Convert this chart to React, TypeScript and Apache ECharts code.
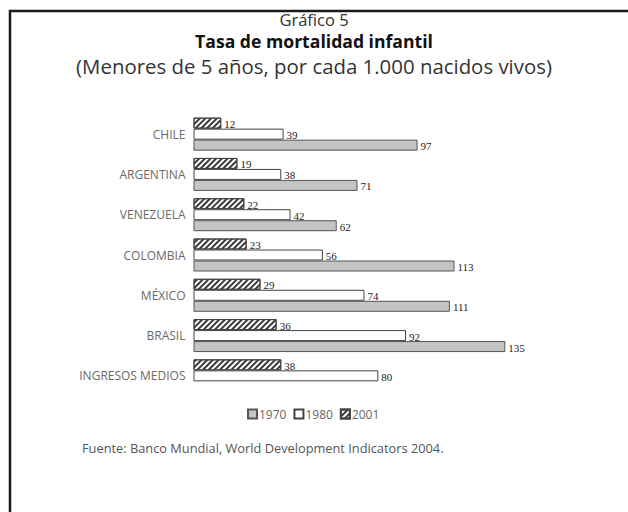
import React, { useEffect, useRef } from "react";
import * as echarts from "echarts";

const categories = ["CHILE", "ARGENTINA", "VENEZUELA", "COLOMBIA", "MÉXICO", "BRASIL", "INGRESOS MEDIOS"];
const values1970 = [97, 71, 62, 113, 111, 135, null];
const values1980 = [39, 38, 42, 56, 74, 92, 80];
const values2001 = [12, 19, 22, 23, 29, 36, 38];
const legendNames = ["1970", "1980", "2001"];

const SANS = "'Open Sans', 'DejaVu Sans', sans-serif";
const SERIF = "'Liberation Serif', 'DejaVu Serif', serif";

export default function App() {
  const ref = useRef<HTMLDivElement>(null);
  useEffect(() => {
    document.body.style.margin = "0";
    const chart = echarts.init(ref.current!, null, { renderer: "svg" });
    const label = {
      show: true,
      position: "right" as const,
      distance: 3,
      fontFamily: SERIF,
      fontSize: 11,
      color: "#222",
      offset: [0, 1],
    };
    const barBase = { type: "bar" as const, barWidth: 11, barGap: "0%", label };
    chart.setOption({
      animation: false,
      backgroundColor: "#fff",
      title: [
        {
          text: "Gráfico 5",
          left: "center",
          top: 11,
          padding: 0,
          textStyle: { fontFamily: SANS, fontWeight: "normal", fontSize: 16.5, lineHeight: 16.5, color: "#333" },
        },
        {
          text: "Tasa de mortalidad infantil",
          left: "center",
          top: 32.5,
          padding: 0,
          textStyle: { fontFamily: SANS, fontWeight: "bold", fontSize: 17.6, lineHeight: 17.6, color: "#111" },
        },
        {
          text: "(Menores de 5 años, por cada 1.000 nacidos vivos)",
          left: "center",
          top: 55.5,
          padding: 0,
          textStyle: { fontFamily: SANS, fontWeight: "normal", fontSize: 20.4, lineHeight: 20.4, color: "#333" },
        },
      ],
      legend: {
        data: legendNames,
        left: 242,
        top: 403,
        itemWidth: 9,
        itemHeight: 9,
        itemGap: 7,
        icon: "rect",
        textStyle: { fontFamily: SANS, fontSize: 12, color: "#666", padding: [0, 0, 0, -3] },
      },
      grid: { left: 193.5, top: 114, width: 346.5, height: 282 },
      xAxis: { type: "value", min: 0, max: 150, show: false },
      yAxis: {
        type: "category",
        data: categories,
        inverse: true,
        axisLine: { show: false },
        axisTick: { show: false },
        axisLabel: { fontFamily: SANS, fontSize: 12, color: "#6a6a6a", margin: 8 },
      },
      series: [
        {
          ...barBase,
          name: "2001",
          data: values2001,
          itemStyle: {
            color: "#fff",
            borderColor: "#444",
            borderWidth: 1,
            decal: {
              symbol: "rect",
              symbolSize: 1,
              color: "#3a3a3a",
              backgroundColor: "#fff",
              dashArrayX: [1, 0],
              dashArrayY: [2, 1.6],
              rotation: -Math.PI / 4,
            },
          },
        },
        {
          ...barBase,
          name: "1980",
          data: values1980,
          itemStyle: { color: "#fff", borderColor: "#444", borderWidth: 1 },
        },
        {
          ...barBase,
          name: "1970",
          data: values1970,
          itemStyle: { color: "#c4c4c4", borderColor: "#555", borderWidth: 1 },
        },
      ],
      graphic: [
        {
          type: "rect",
          shape: { x: 10, y: 11, width: 700, height: 600 },
          style: { fill: "none", stroke: "#1a1a1a", lineWidth: 2.5 },
          silent: true,
        },
        {
          type: "text",
          left: 82,
          top: 441,
          style: {
            text: "Fuente: Banco Mundial, World Development Indicators 2004.",
            fontFamily: SANS,
            fontSize: 12.8,
            fill: "#555",
          },
        },
      ],
    });
    return () => chart.dispose();
  }, []);
  return <div ref={ref} style={{ width: 628, height: 512 }} />;
}
